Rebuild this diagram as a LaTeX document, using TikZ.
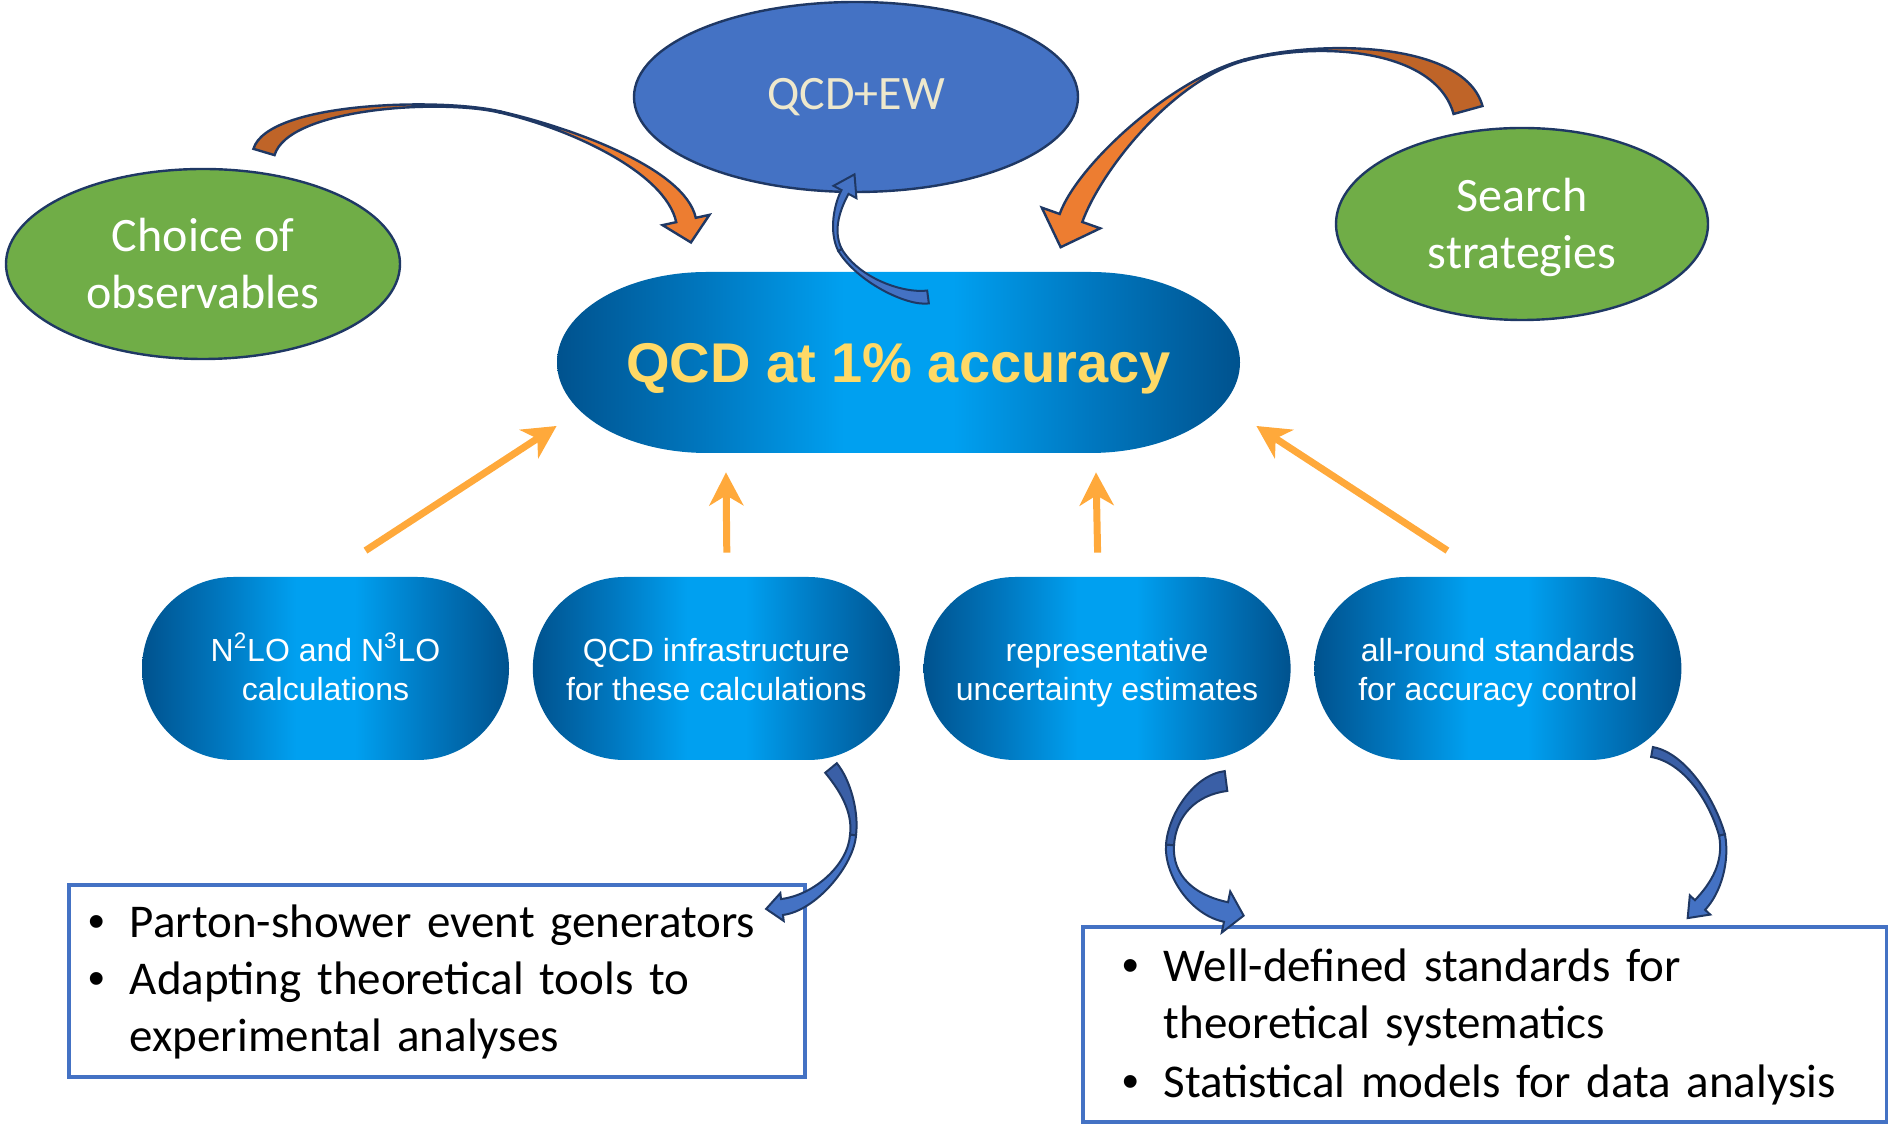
\documentclass[tikz,border=0pt]{standalone}
\usepackage{fontspec}
\setmainfont{Carlito}
\newfontfamily\arialfont{Liberation Sans}
\usepackage{tikz}
\usetikzlibrary{positioning, calc, shapes.geometric, shapes.misc, arrows.meta}

\definecolor{navy}{HTML}{1F3864}
\definecolor{leafgreen}{HTML}{70AD47}
\definecolor{ewblue}{HTML}{4472C4}
\definecolor{skyblue}{HTML}{00A0F0}
\definecolor{midblue}{HTML}{0078C0}
\definecolor{deepblue}{HTML}{00528E}
\definecolor{gold}{HTML}{FFD966}
\definecolor{cream}{HTML}{EEE8CC}
\definecolor{lightorange}{HTML}{ED7D31}
\definecolor{darkorange}{HTML}{BF6428}
\definecolor{paleorange}{HTML}{FFA93B}
\definecolor{shadeblue}{HTML}{3A5FA6}

% bright in the middle, dark at both ends
\pgfdeclarehorizontalshading{glow}{100bp}{color(0bp)=(deepblue); color(25bp)=(deepblue);
  color(36bp)=(midblue); color(46bp)=(skyblue); color(54bp)=(skyblue); color(64bp)=(midblue);
  color(75bp)=(deepblue); color(100bp)=(deepblue)}

\tikzset{
        topic/.style={ellipse, draw=navy, line width=1.2pt, inner sep=0pt, text=white, align=center,
          font=\fontsize{24}{28.5}\selectfont}, % the three ellipses
        task/.style={rounded rectangle, shade, shading=glow,
          minimum width=183.5pt, minimum height=91.5pt, inner sep=0pt, text=white, align=center,
          font=\arialfont\fontsize{16}{19.5}\selectfont},
        note box/.style={draw=ewblue, line width=1.8pt, fill=white, anchor=north west, inner ysep=0pt,
          inner xsep=10pt, align=left, font=\fontsize{23.5}{28.5}\selectfont},
        up arrow/.style={draw=paleorange, line width=3.5pt, -{Stealth[length=16.5pt, width=17pt, inset=5pt]}},
    }
\tikzset{
        tail orange/.style={fill=darkorange, draw=navy, line width=1.2pt},
        head orange/.style={fill=lightorange, draw=navy, line width=1.2pt},
        tail blue/.style={fill=shadeblue, draw=navy, line width=1pt},
        head blue/.style={fill=ewblue, draw=navy, line width=1pt},
    }

\newcommand{\lstrut}{\rule[-6pt]{0pt}{28.5pt}} % ellipse lines
\newcommand{\tstrut}{\rule[-3.6pt]{0pt}{19.5pt}} % task lines
\newcommand{\dotitem}{\makebox[20.5pt][l]{\arialfont\textbullet}}

% band along a curve: style, P0, P1, P2, P3, half width at P0, half width at P3
\newcommand{\band}[7]{%
  \path[#1] ($(#2)!#6!90:(#3)$) .. controls ($(#3)!#6!-90:(#2)$) and ($(#4)!#7!90:(#5)$) .. ($(#5)!#7!-90:(#4)$)
    -- ($(#5)!#7!90:(#4)$) .. controls ($(#4)!#7!-90:(#5)$) and ($(#3)!#6!90:(#2)$) .. ($(#2)!#6!-90:(#3)$) -- cycle;}
% same band with an arrow head at P3: ..., head half width, head length
\newcommand{\headband}[9]{%
  \path[#1] ($(#2)!#6!90:(#3)$) .. controls ($(#3)!#6!-90:(#2)$) and ($(#4)!#7!90:(#5)$) .. ($(#5)!#7!-90:(#4)$)
    -- ($(#5)!#8!-90:(#4)$) -- ($(#5)!-#9!(#4)$) -- ($(#5)!#8!90:(#4)$)
    -- ($(#5)!#7!90:(#4)$) .. controls ($(#4)!#7!-90:(#5)$) and ($(#3)!#6!90:(#2)$) .. ($(#2)!#6!-90:(#3)$) -- cycle;}

\begin{document}
\begin{tikzpicture}[x=0.5pt, y=0.5pt]
    \useasboundingbox (0,0) rectangle (1888,1124);
    \node [topic, fill=leafgreen, minimum width=197pt, minimum height=95pt] (obs) at (203,860) {\lstrut Choice of\\\lstrut observables};
    \node [topic, fill=leafgreen, minimum width=186pt, minimum height=96pt] (search) at (1522,900) {\lstrut Search\\\lstrut strategies};
    \node [topic, fill=ewblue, text=cream, minimum width=222pt, minimum height=95pt] (ew) at (856,1027) {QCD+EW};
    % central goal
    \shade [shading=glow] (707,852) -- (1090,852)
      arc[start angle=90, end angle=-90, x radius=150, y radius=90.5] -- (707,671)
      arc[start angle=270, end angle=90, x radius=150, y radius=90.5] -- cycle;
    \node [text=gold, minimum width=341.5pt, minimum height=90.5pt, font=\arialfont\bfseries\fontsize{28}{34}\selectfont] (acc) at (898.5,755.5) {QCD at 1\% accuracy};
    % the four ingredients
    \node [task] (nlo) at (325.5,455.5) {\tstrut N\textsuperscript{2}LO and N\textsuperscript{3}LO\\\tstrut calculations};
    \node [task, right=11.5pt of nlo] (infra) {\tstrut QCD infrastructure\\\tstrut for these calculations};
    \node [task, right=11.5pt of infra] (unc) {\tstrut representative\\\tstrut uncertainty estimates};
    \node [task, right=11.5pt of unc] (std) {\tstrut all-round standards\\\tstrut for accuracy control};
    \draw [up arrow] ([shift={(40,26)}]nlo.north) -- ([shift={(0,-57.5)}]acc.west);
    \draw [up arrow] ([shift={(10.5,24)}]infra.north) -- ([shift={(-172.5,-13)}]acc.south);
    \draw [up arrow] ([shift={(-9.5,24)}]unc.north) -- ([shift={(197.5,-13)}]acc.south);
    \draw [up arrow] ([shift={(-50.5,26)}]std.north) -- ([shift={(16,-57.5)}]acc.east);
    % bullet boxes
    \node [note box, text width=348pt, minimum height=96pt] (tools) at (67,241) {%
      \begin{tabular}{@{}l@{}l@{}}
        \dotitem & \rule{0pt}{22.4pt}Parton-shower event generators\\
        \dotitem & Adapting theoretical tools to\\
         & experimental analyses
      \end{tabular}};
    \node [note box, text width=362pt, inner xsep=20pt, minimum height=97.5pt] (norms) at (1081,199) {%
      \begin{tabular}{@{}l@{}l@{}}
        \dotitem & \rule{0pt}{24pt}Well-defined standards for\\
         & theoretical systematics\\[1.2pt]
        \dotitem & Statistical models for data analysis
      \end{tabular}};
    % curved block arrows
    \band{tail orange}{264,972}{278,1019}{440,1026}{500,1012}{5.5pt}{0.3pt}
    \headband{head orange}{500,1012}{570,996}{675,954}{686,904}{0.3pt}{5pt}{12pt}{11.5pt}
    \band{tail orange}{1468,1014}{1450,1079}{1320,1084}{1245,1064}{7.5pt}{0.3pt}
    \headband{head orange}{1245,1064}{1170,1044}{1088,954}{1071,906}{0.3pt}{6pt}{15.5pt}{15.5pt}
    \band{head blue}{928,827}{905,824}{858,844}{840,874}{3.25pt}{1pt}
    \headband{head blue}{840,874}{830,894}{838,919}{845,932}{1pt}{2pt}{6.5pt}{10pt}
    \band{tail blue}{831,356}{845,339}{856,312}{853,289}{3.75pt}{1.5pt}
    \headband{head blue}{853,289}{851,259}{815,221}{782,217}{1.5pt}{4pt}{7pt}{8pt}
    \band{tail blue}{1226,343}{1195,339}{1172,309}{1170,279}{5pt}{2pt}
    \headband{head blue}{1170,279}{1168,249}{1192,219}{1226,212}{2pt}{5pt}{10.5pt}{9pt}
    \band{tail blue}{1652,372}{1685,366}{1712,324}{1722,289}{2.5pt}{1.5pt}
    \headband{head blue}{1722,289}{1727,262}{1716,236}{1700,219}{1.5pt}{3.5pt}{7pt}{9pt}
\end{tikzpicture}
\end{document}
